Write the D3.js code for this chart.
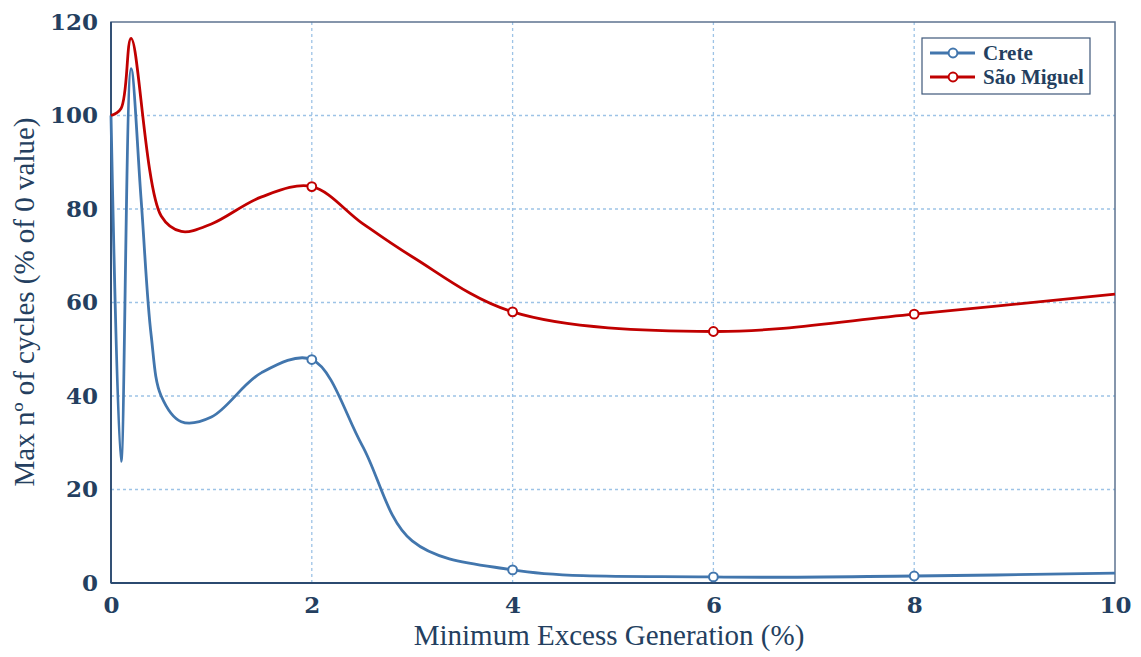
<!DOCTYPE html>
<html>
<head>
<meta charset="utf-8">
<title>Max cycles vs minimum excess generation</title>
<script src="https://d3js.org/d3.v7.min.js"></script>
<style>
  body { margin: 0; background: white; }
  text { font-family: 'Liberation Serif', 'DejaVu Serif', serif; fill: #243f60; }
  .tick-label { font-family: 'DejaVu Serif', serif; font-weight: bold; font-size: 23px; }
  .legend-text { font-weight: bold; font-size: 21px; }
</style>
</head>
<body>
<svg id="chart"></svg>
<script>
// values
var creteX = [0, 0.1, 0.2, 0.3, 0.4, 0.5, 0.7, 1, 1.5, 2, 2.5, 3, 4, 6, 8, 10];
var creteY = [100, 26, 110, 82, 53, 40, 34.5, 35.5, 45, 47.8, 29.5, 9, 2.8, 1.3, 1.5, 2.1];
var miguelX = [0, 0.1, 0.2, 0.5, 0.7, 1, 1.5, 2, 2.5, 3, 4, 6, 8, 10];
var miguelY = [100, 101.5, 116.5, 78.5, 75.2, 76.8, 82.6, 84.8, 77, 69.8, 58, 53.8, 57.5, 61.8];
var markerX = [2, 4, 6, 8];
var seriesNames = ["Crete", "São Miguel"];
var seriesColors = ["#4276ad", "#c00000"];
var xTicks = [0, 2, 4, 6, 8, 10];
var yTicks = [0, 20, 40, 60, 80, 100, 120];

var width = 1141, height = 657;
var svg = d3.select("#chart").attr("width", width).attr("height", height);

var x = d3.scaleLinear().domain([0, 10]).range([111, 1115]);
var y = d3.scaleLinear().domain([0, 120]).range([583, 22]);

// grid
svg.append("g").selectAll("line.hg")
  .data(yTicks.filter(function(d) { return d > 0 && d < 120; }))
  .enter().append("line")
  .attr("x1", x(0)).attr("x2", x(10))
  .attr("y1", function(d) { return y(d); }).attr("y2", function(d) { return y(d); })
  .attr("stroke", "#9dc3e6").attr("stroke-width", 1.3).attr("stroke-dasharray", "3,3");
svg.append("g").selectAll("line.vg")
  .data(xTicks.filter(function(d) { return d > 0 && d < 10; }))
  .enter().append("line")
  .attr("x1", function(d) { return x(d); }).attr("x2", function(d) { return x(d); })
  .attr("y1", y(0)).attr("y2", y(120))
  .attr("stroke", "#9dc3e6").attr("stroke-width", 1.3).attr("stroke-dasharray", "3,3");

// frame
svg.append("rect")
  .attr("x", x(0)).attr("y", y(120))
  .attr("width", x(10) - x(0)).attr("height", y(0) - y(120))
  .attr("fill", "none").attr("stroke", "#5d7390").attr("stroke-width", 1.5);
svg.append("line").attr("x1", x(0)).attr("x2", x(10)).attr("y1", y(0)).attr("y2", y(0))
  .attr("stroke", "#2b4a70").attr("stroke-width", 1.8);
svg.append("line").attr("x1", x(0)).attr("x2", x(0)).attr("y1", y(0)).attr("y2", y(120))
  .attr("stroke", "#2b4a70").attr("stroke-width", 1.8);

// axes
var xAxis = d3.axisBottom(x).tickValues(xTicks).tickSize(0).tickPadding(14);
var gx = svg.append("g").attr("transform", "translate(0," + y(0) + ")").call(xAxis);
gx.select(".domain").remove();
gx.selectAll("text").attr("class", "tick-label").attr("fill", "#243f60").attr("dy", "0.71em");

var yAxis = d3.axisLeft(y).tickValues(yTicks).tickSize(0).tickPadding(13);
var gy = svg.append("g").attr("transform", "translate(" + x(0) + ",0)").call(yAxis);
gy.select(".domain").remove();
gy.selectAll("text").attr("class", "tick-label").attr("fill", "#243f60");
gx.attr("font-family", null).attr("font-size", null);
gy.attr("font-family", null).attr("font-size", null);

// axis titles
svg.append("text")
  .attr("x", 609).attr("y", 645)
  .attr("text-anchor", "middle")
  .style("font-size", "29px")
  .text("Minimum Excess Generation (%)");
svg.append("text")
  .attr("transform", "translate(34,302) rotate(-90)")
  .attr("text-anchor", "middle")
  .style("font-size", "29px")
  .text("Max nº of cycles (% of 0 value)");

// series
var series = [
  { name: seriesNames[0], color: seriesColors[0], pts: creteX.map(function(v, i) { return [v, creteY[i]]; }) },
  { name: seriesNames[1], color: seriesColors[1], pts: miguelX.map(function(v, i) { return [v, miguelY[i]]; }) }
];

var line = d3.line()
  .x(function(d) { return x(d[0]); })
  .y(function(d) { return y(d[1]); })
  .curve(d3.curveCatmullRom.alpha(0.5));

series.forEach(function(s) {
  svg.append("path")
    .datum(s.pts)
    .attr("d", line)
    .attr("fill", "none")
    .attr("stroke", s.color)
    .attr("stroke-width", 2.8);
  svg.append("g").selectAll("circle")
    .data(s.pts.filter(function(p) { return markerX.indexOf(p[0]) >= 0; }))
    .enter().append("circle")
    .attr("cx", function(d) { return x(d[0]); })
    .attr("cy", function(d) { return y(d[1]); })
    .attr("r", 4.4)
    .attr("fill", "white")
    .attr("stroke", s.color)
    .attr("stroke-width", 2);
});

// legend
var lg = svg.append("g").attr("transform", "translate(922,38)");
lg.append("rect").attr("width", 168).attr("height", 56)
  .attr("fill", "white").attr("stroke", "#3e587a").attr("stroke-width", 1.2);
series.forEach(function(s, i) {
  var row = lg.append("g").attr("transform", "translate(0," + (15 + i * 24) + ")");
  row.append("line").attr("x1", 8).attr("x2", 53).attr("y1", 0).attr("y2", 0)
    .attr("stroke", s.color).attr("stroke-width", 2.8);
  row.append("circle").attr("cx", 31).attr("cy", 0).attr("r", 4.4)
    .attr("fill", "white").attr("stroke", s.color).attr("stroke-width", 2);
  row.append("text").attr("class", "legend-text").attr("x", 61).attr("y", 7).text(s.name);
});
</script>
</body>
</html>
